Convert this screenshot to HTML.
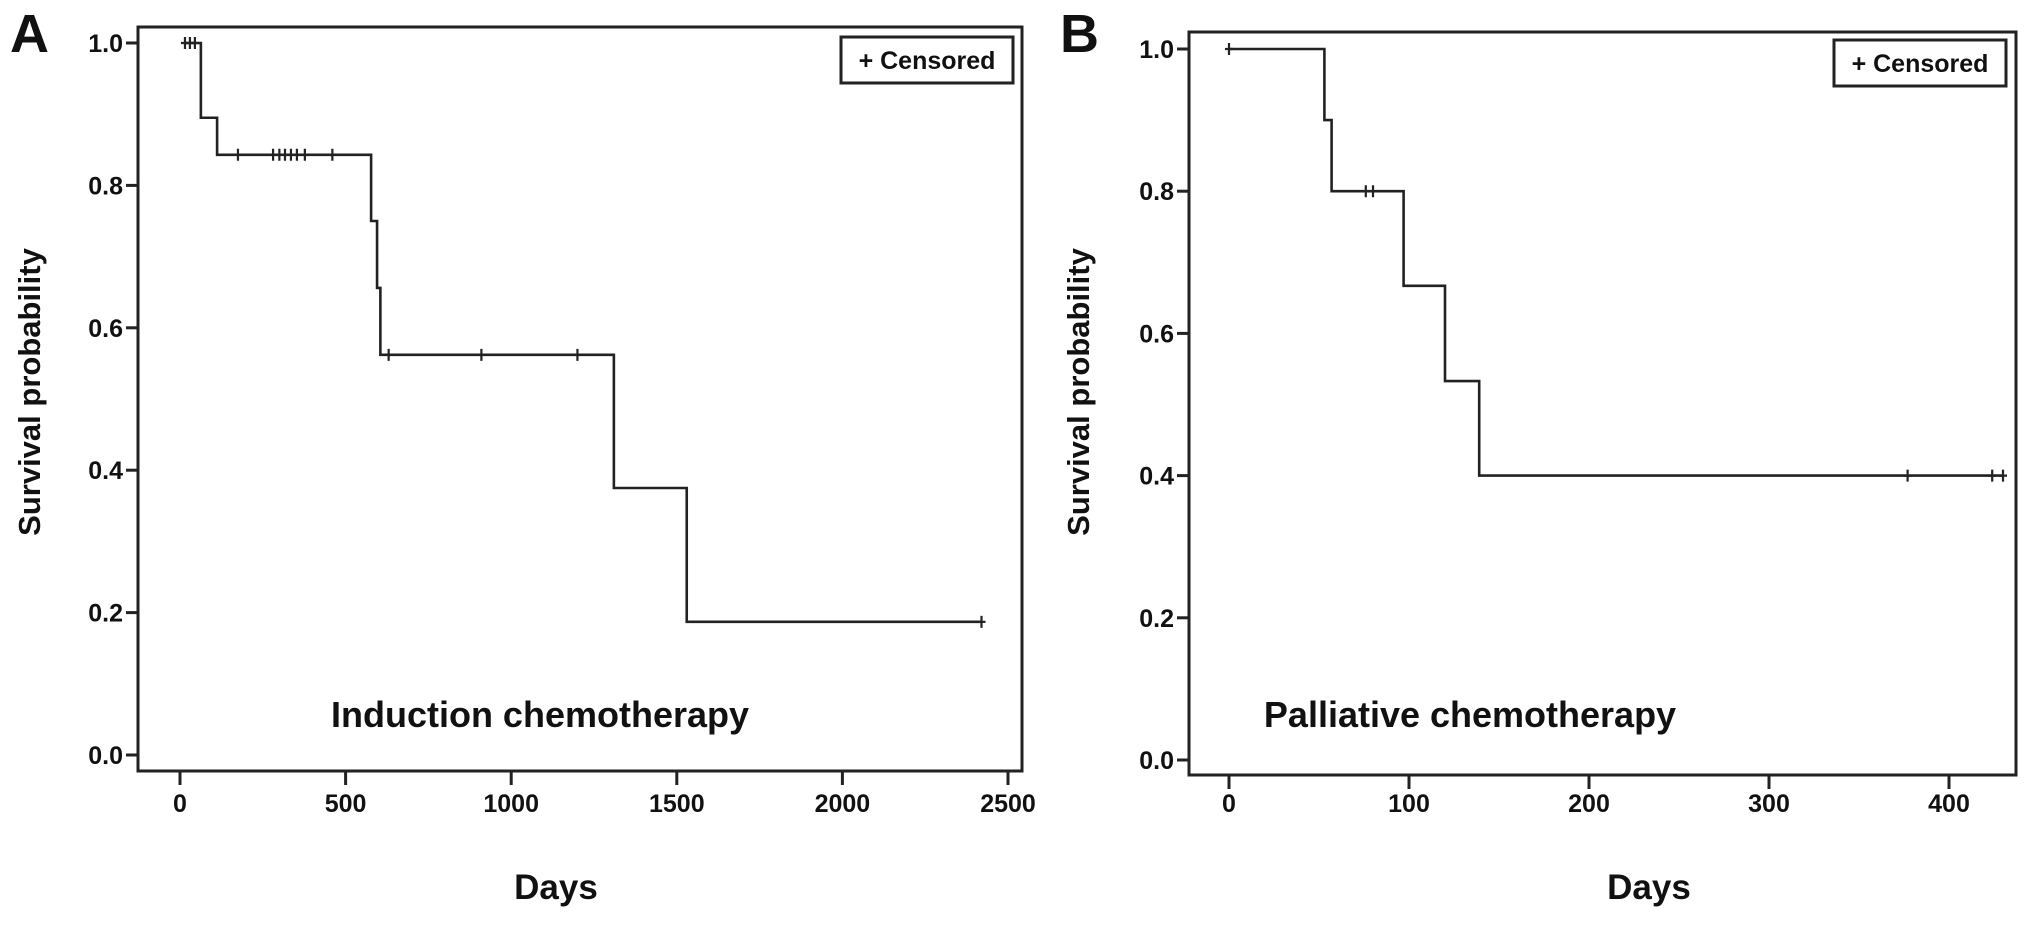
<!DOCTYPE html>
<html><head><meta charset="utf-8"><style>
html,body{margin:0;padding:0;background:#fff;}
svg text{font-family:"Liberation Sans",Arial,sans-serif;font-weight:bold;fill:#111;}
</style></head><body>
<svg id="fig" width="2031" height="920" viewBox="0 0 2031 920" xmlns="http://www.w3.org/2000/svg"></svg>
<script>
// Panel A data (Induction chemotherapy)
const aEventDays = [63, 112, 577, 595, 605, 1310, 1530];
const aEventSurv = [0.895, 0.843, 0.75, 0.656, 0.562, 0.375, 0.187];
const aCensorDays = [15, 30, 45, 175, 281, 300, 317, 335, 353, 377, 460, 630, 910, 1200, 2420];
const aEndDay = 2420;
const aXTicks = [0, 500, 1000, 1500, 2000, 2500];
// Panel B data (Palliative chemotherapy)
const bEventDays = [53, 57, 97, 120, 139];
const bEventSurv = [0.9, 0.8, 0.667, 0.533, 0.4];
const bCensorDays = [0, 76, 80, 377, 424, 430];
const bEndDay = 430;
const bXTicks = [0, 100, 200, 300, 400];
const yTicks = [0.0, 0.2, 0.4, 0.6, 0.8, 1.0];

const NS = "http://www.w3.org/2000/svg";
const svg = document.getElementById('fig');
function mk(tag, attrs, parent, txt){
  const e = document.createElementNS(NS, tag);
  for (const k in attrs) e.setAttribute(k, attrs[k]);
  if (txt !== undefined) e.textContent = txt;
  (parent || svg).appendChild(e);
  return e;
}

function panel(cfg){
  const g = mk('g', {});
  
  
  const x = d => cfg.x0 + (d - cfg.d0) * (cfg.x1 - cfg.x0) / (cfg.d1 - cfg.d0);
  const y = v => cfg.y0 - v * (cfg.y0 - cfg.y1);
  const stroke = '#222';
  const fr = mk('rect', {x: cfg.left, y: cfg.top, width: cfg.right - cfg.left, height: cfg.bottom - cfg.top, fill: 'none', stroke: stroke, 'stroke-width': 3}, g);
  
  
  yTicks.forEach(v => {
    const t = mk('line', {x1: cfg.left - 12, x2: cfg.left, y1: y(v), y2: y(v), stroke: stroke, 'stroke-width': 3}, g);
    
    
    const l = mk('text', {x: cfg.left - 15, y: y(v) + 9, 'text-anchor': 'end', 'font-size': 25}, g, v.toFixed(1));
    
    
  });
  cfg.xticks.forEach(d => {
    const t = mk('line', {x1: x(d), x2: x(d), y1: cfg.bottom, y2: cfg.bottom + 14, stroke: stroke, 'stroke-width': 3}, g);
    
    
    const l = mk('text', {x: x(d), y: 812, 'text-anchor': 'middle', 'font-size': 25}, g, String(d));
    
    
  });
  let dstr = 'M' + x(cfg.d0start) + ' ' + y(1);
  cfg.ev.forEach((d, i) => {
    dstr += ' H' + x(d) + ' V' + y(cfg.sv[i]);
  });
  dstr += ' H' + x(cfg.end);
  const p = mk('path', {d: dstr, fill: 'none', stroke: stroke, 'stroke-width': 2.6}, g);
  
  
  cfg.cens.forEach(d => {
    let s = 1;
    cfg.ev.forEach((e, i) => { if (e <= d) s = cfg.sv[i]; });
    const c = mk('path', {d: 'M' + x(d) + ' ' + (y(s) - 6) + ' V' + (y(s) + 6) + ' M' + (x(d) - 4) + ' ' + y(s) + ' H' + (x(d) + 4), fill: 'none', stroke: stroke, 'stroke-width': 2.2}, g);
    
    
  });
  const lg = mk('g', {}, g);
  
  
  mk('rect', {x: cfg.lgx, y: cfg.lgy, width: 172, height: 46, fill: '#fff', stroke: stroke, 'stroke-width': 3}, lg);
  const lt = mk('text', {x: cfg.lgx + 86, y: cfg.lgy + 32, 'text-anchor': 'middle', 'font-size': 25}, lg, '+ Censored');
  
  
  const tt = mk('text', {x: cfg.titleX, y: 727, 'text-anchor': 'middle', 'font-size': 36}, g, cfg.title);
  
  
  const xt = mk('text', {x: cfg.daysX, y: 899, 'text-anchor': 'middle', 'font-size': 35}, g, 'Days');
  
  
  const yt = mk('text', {x: 0, y: 0, 'text-anchor': 'middle', 'font-size': 31, transform: 'translate(' + cfg.ytX + ',392) rotate(-90)'}, g, 'Survival probability');
  
  
  const pl = mk('text', {x: cfg.letterX, y: 52, 'font-size': 54}, g, cfg.letter);
  
  
}

panel({name: 'panel-a-induction', left: 138, right: 1022, top: 27, bottom: 771,
  x0: 180, x1: 1008, d0: 0, d1: 2500, y0: 755, y1: 43,
  xticks: aXTicks, ev: aEventDays, sv: aEventSurv, cens: aCensorDays, end: aEndDay, d0start: 15,
  lgx: 841, lgy: 37, title: 'Induction chemotherapy', titleX: 540, daysX: 556, ytX: 40,
  letterX: 10, letter: 'A'});
panel({name: 'panel-b-palliative', left: 1189, right: 2016, top: 32, bottom: 775,
  x0: 1229, x1: 1949, d0: 0, d1: 400, y0: 760, y1: 49,
  xticks: bXTicks, ev: bEventDays, sv: bEventSurv, cens: bCensorDays, end: bEndDay, d0start: 0,
  lgx: 1834, lgy: 40, title: 'Palliative chemotherapy', titleX: 1470, daysX: 1649, ytX: 1089,
  letterX: 1060, letter: 'B'});
</script>
</body></html>
